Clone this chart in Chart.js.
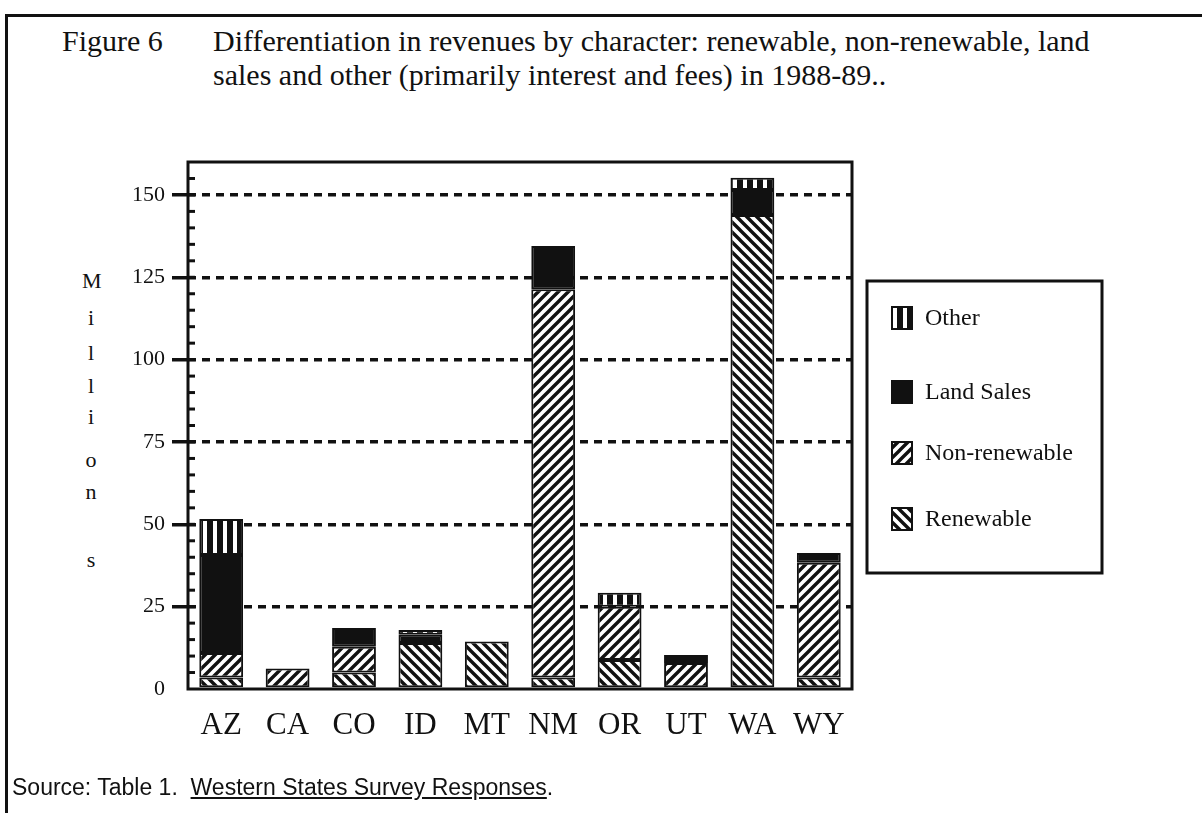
<!DOCTYPE html>
<html>
<head>
<meta charset="utf-8">
<script src="https://cdn.jsdelivr.net/npm/chart.js@4.4.0/dist/chart.umd.min.js"></script>
<style>
  body { margin: 0; background: #fff; width: 1202px; height: 813px; overflow: hidden; position: relative; }
  #frame { position: absolute; left: 5px; top: 14px; width: 1200px; height: 820px; border-left: 3px solid #111; border-top: 3px solid #111; }
  .txt { position: absolute; font-family: "Liberation Serif", "Times New Roman", serif; color: #111; white-space: nowrap; }
  #fig { left: 62px; top: 24px; font-size: 30px; }
  #title { left: 213px; top: 24px; font-size: 30px; line-height: 34px; }
  #source { left: 12px; top: 774px; font-family: "Liberation Sans", Arial, sans-serif; font-size: 23px; }
  .ylab { position: absolute; left: 82px; width: 18px; text-align: center; font-family: "Liberation Serif", serif; font-size: 22px; color: #111; }
  canvas { position: absolute; left: 0; top: 0; }
</style>
</head>
<body>
<div id="frame"></div>
<div class="txt" id="fig">Figure 6</div>
<div class="txt" id="title">Differentiation in revenues by character: renewable, non-renewable, land<br>sales and other (primarily interest and fees) in 1988-89..</div>
<div class="ylab" style="top:268px">M</div>
<div class="ylab" style="top:305px">i</div>
<div class="ylab" style="top:340px">l</div>
<div class="ylab" style="top:373px">l</div>
<div class="ylab" style="top:404px">i</div>
<div class="ylab" style="top:447px">o</div>
<div class="ylab" style="top:479px">n</div>
<div class="ylab" style="top:547px">s</div>
<canvas id="chart" width="1202" height="813"></canvas>
<div class="txt" id="source">Source: Table 1.&nbsp; <u>Western States Survey Responses</u>.</div>
<script>
// values in millions of dollars, 1988-89
const states = ['AZ', 'CA', 'CO', 'ID', 'MT', 'NM', 'OR', 'UT', 'WA', 'WY'];
const renewable    = [3.5, 0,   5,   14,  14.4, 3.5,   8.8,  0,   143.9, 3.5];
const nonRenewable = [7.4, 6.2, 7.8, 0,   0,    117.9, 16.2, 7.9, 0,     34.8];
const landSales    = [29.8, 0,  5.7, 2.5, 0,    13.1,  0,    1.2, 7.6,   3.0];
const other        = [10.9, 0,  0,   1.4, 0,    0,     4.2,  1.2, 3.7,   0];
const yTicks = [0, 25, 50, 75, 100, 125, 150];

const ink = '#111';

function hatch(forward) {
    const c = document.createElement('canvas');
    c.width = 10; c.height = 10;
    const g = c.getContext('2d');
    g.fillStyle = '#fff';
    g.fillRect(0, 0, 10, 10);
    g.strokeStyle = ink;
    g.lineWidth = 3.4;
    g.beginPath();
    if (forward) {
        g.moveTo(-5, 5); g.lineTo(5, -5);
        g.moveTo(0, 10); g.lineTo(10, 0);
        g.moveTo(5, 15); g.lineTo(15, 5);
    } else {
        g.moveTo(-5, 5); g.lineTo(5, 15);
        g.moveTo(0, 0); g.lineTo(10, 10);
        g.moveTo(5, -5); g.lineTo(15, 5);
    }
    g.stroke();
    return g.createPattern(c, 'repeat');
}

function bars() {
    const c = document.createElement('canvas');
    c.width = 10; c.height = 10;
    const g = c.getContext('2d');
    g.fillStyle = ink;
    g.fillRect(0, 0, 10, 10);
    g.fillStyle = '#fff';
    g.fillRect(3, 0, 4, 10);
    return g.createPattern(c, 'repeat');
}

const fills = {
    renewable: hatch(false),
    nonRenewable: hatch(true),
    landSales: ink,
    other: bars()
};

// legend box, drawn top to bottom
const legendItems = [
    { label: 'Other', fill: fills.other, y: 318 },
    { label: 'Land Sales', fill: fills.landSales, y: 392 },
    { label: 'Non-renewable', fill: fills.nonRenewable, y: 453 },
    { label: 'Renewable', fill: fills.renewable, y: 519 }
];

const framePlugin = {
    id: 'frame',
    afterDatasetsDraw(chart) {
        const { ctx, chartArea: a, scales } = chart;
        ctx.save();
        ctx.strokeStyle = ink;
        ctx.lineWidth = 3;
        ctx.strokeRect(a.left, a.top, a.right - a.left, a.bottom - a.top);
        // minor ticks inside the y axis
        for (let v = 5; v < scales.y.max; v += 5) {
            const y = scales.y.getPixelForValue(v);
            ctx.beginPath();
            ctx.moveTo(a.left, y);
            ctx.lineTo(a.left + 7, y);
            ctx.stroke();
        }
        // legend
        ctx.strokeRect(867, 281, 235, 292);
        ctx.font = '24px "Liberation Serif", serif';
        ctx.textBaseline = 'middle';
        legendItems.forEach(it => {
            ctx.fillStyle = it.fill;
            ctx.fillRect(892, it.y - 11, 20, 22);
            ctx.lineWidth = 2;
            ctx.strokeRect(892, it.y - 11, 20, 22);
            ctx.fillStyle = ink;
            ctx.fillText(it.label, 925, it.y + 1);
        });
        ctx.restore();
    }
};

function ds(label, data, fill) {
    return {
        label: label,
        data: data,
        backgroundColor: fill,
        borderColor: ink,
        borderWidth: 2,
        borderSkipped: false,
        barPercentage: 0.66,
        categoryPercentage: 1
    };
}

new Chart(document.getElementById('chart').getContext('2d'), {
    type: 'bar',
    data: {
        labels: states,
        datasets: [
            ds('Renewable', renewable, fills.renewable),
            ds('Non-renewable', nonRenewable, fills.nonRenewable),
            ds('Land Sales', landSales, fills.landSales),
            ds('Other', other, fills.other)
        ]
    },
    options: {
        responsive: false,
        animation: false,
        layout: { padding: { left: 108, right: 350, top: 162, bottom: 64 } },
        plugins: { legend: { display: false }, tooltip: { enabled: false } },
        scales: {
            x: {
                stacked: true,
                grid: { display: false },
                border: { display: false },
                ticks: { color: ink, padding: 10, font: { family: '"Liberation Serif", serif', size: 31 } },
                afterFit(s) { s.height = 60; }
            },
            y: {
                stacked: true,
                min: 0,
                max: 160,
                afterBuildTicks(s) { s.ticks = yTicks.map(v => ({ value: v })); },
                ticks: { color: ink, padding: 7, font: { family: '"Liberation Serif", serif', size: 22 } },
                grid: {
                    color: c => c.tick && c.tick.value > 0 ? ink : 'transparent',
                    lineWidth: 3.5,
                    tickLength: 16
                },
                border: { display: false, dash: [8, 6] },
                afterFit(s) { s.width = 80; }
            }
        }
    },
    plugins: [framePlugin]
});
</script>
</body>
</html>
